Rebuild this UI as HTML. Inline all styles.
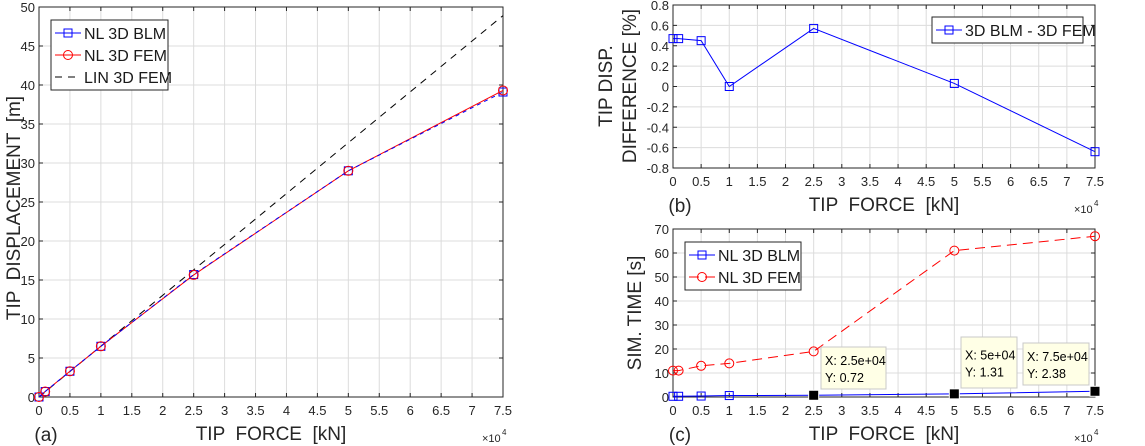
<!DOCTYPE html>
<html><head><meta charset="utf-8"><style>
html,body{margin:0;padding:0;background:#fff;}
svg{display:block;font-family:"Liberation Sans",sans-serif;}
text{white-space:pre;}
</style></head><body>
<svg id="fig" width="1145" height="446" viewBox="0 0 1145 446" xmlns="http://www.w3.org/2000/svg"></svg>
<script>
// ---- data ----
const forceA = [0, 0.1, 0.5, 1, 2.5, 5, 7.5];
const dispBLM = [0, 0.7, 3.3, 6.5, 15.7, 29.0, 39.1];
const dispFEM = [0, 0.7, 3.3, 6.5, 15.65, 29.0, 39.3];
const linX = [0, 7.5];
const linY = [0, 48.9];
const diffVals = [0.47, 0.47, 0.45, 0.0, 0.57, 0.03, -0.64];
const timeFEM = [11, 11, 13, 14, 19, 61, 67];
const timeBLM = [0.3, 0.3, 0.4, 0.6, 0.72, 1.31, 2.38];
const tipX = [2.5, 5, 7.5];
const tipY = [0.72, 1.31, 2.38];
const tipLabelX = ["2.5e+04", "5e+04", "7.5e+04"];
const xTicks = [0,0.5,1,1.5,2,2.5,3,3.5,4,4.5,5,5.5,6,6.5,7,7.5];
const yTicksA = [0,5,10,15,20,25,30,35,40,45,50];
const yTicksB = [-0.8,-0.6,-0.4,-0.2,0,0.2,0.4,0.6,0.8];
const yTicksC = [0,10,20,30,40,50,60,70];

const NS="http://www.w3.org/2000/svg";
const svg=document.getElementById('fig');
function el(tag,attrs,parent,txt){const e=document.createElementNS(NS,tag);for(const k in attrs)e.setAttribute(k,attrs[k]);if(txt!==undefined)e.textContent=txt;(parent||svg).appendChild(e);return e;}

function axes(name,L,R,T,B,ymin,ymax,yt,letter){
  const g=el('g',{});
  
  
  const sx=v=>L+(v-0)/(7.5)*(R-L);
  const sy=v=>B-(v-ymin)/(ymax-ymin)*(B-T);
  el('rect',{x:L,y:T,width:R-L,height:B-T,fill:'#fff'},g);
  xTicks.forEach(t=>{const l=el('line',{x1:sx(t),x2:sx(t),y1:T,y2:B,stroke:'#dcdcdc','stroke-width':1},g);
    });
  yt.forEach(t=>{const l=el('line',{x1:L,x2:R,y1:sy(t),y2:sy(t),stroke:'#dcdcdc','stroke-width':1},g);
    });
  el('rect',{x:L,y:T,width:R-L,height:B-T,fill:'none',stroke:'#262626','stroke-width':1},g);
  xTicks.forEach(t=>{
    el('line',{x1:sx(t),x2:sx(t),y1:B,y2:B-4,stroke:'#262626'},g);
    el('line',{x1:sx(t),x2:sx(t),y1:T,y2:T+4,stroke:'#262626'},g);
    const tx=el('text',{x:sx(t),y:B+18,'text-anchor':'middle','font-size':13,fill:'#262626'},g,String(t));
    });
  yt.forEach(t=>{
    el('line',{x1:L,x2:L+4,y1:sy(t),y2:sy(t),stroke:'#262626'},g);
    el('line',{x1:R,x2:R-4,y1:sy(t),y2:sy(t),stroke:'#262626'},g);
    const tx=el('text',{x:L-4,y:sy(t)+5,'text-anchor':'end','font-size':13,fill:'#262626'},g,String(t));
    });
  const xl=el('text',{x:(L+R)/2,y:B+43,'text-anchor':'middle','font-size':19,fill:'#262626'},g,'TIP  FORCE  [kN]');
  
  const ex=el('text',{x:R-21,y:B+45,'font-size':11,fill:'#262626'},g,'×10');
  
  el('text',{x:R-1,y:B+38,'font-size':8,fill:'#262626'},g,'4');
  const lt=el('text',{x:L+7,y:B+44,'text-anchor':'middle','font-size':19,fill:'#262626'},g,letter);
  
  return {g,sx,sy};
}
function line(g,xs,ys,ax,color,dash,name){
  const p=el('polyline',{points:xs.map((x,i)=>ax.sx(x)+','+ax.sy(ys[i])).join(' '),fill:'none',stroke:color,'stroke-width':1,'stroke-dasharray':dash||'none'},g);
  
}
function markers(g,xs,ys,ax,color,type,name){
  xs.forEach((x,i)=>{const cx=ax.sx(x),cy=ax.sy(ys[i]);let m;
    if(type==='sq')m=el('rect',{x:cx-4,y:cy-4,width:8,height:8,fill:'none',stroke:color},g);
    else if(type==='blk')m=el('rect',{x:cx-5,y:cy-5,width:10,height:10,fill:'#000',stroke:'#fff'},g);
    else m=el('circle',{cx:cx,cy:cy,r:4.5,fill:'none',stroke:color},g);
    });
}
function legend(g,x,y,w,entries,name){
  const lg=el('g',{},g);
  
  el('rect',{x:x,y:y,width:w,height:entries.length*22+4,fill:'#fff',stroke:'#262626'},lg);
  entries.forEach((e,i)=>{const cy=y+13+i*22;
    el('line',{x1:x+4,x2:x+30,y1:cy,y2:cy,stroke:e.c,'stroke-dasharray':e.d||'none'},lg);
    if(e.m==='sq')el('rect',{x:x+13,y:cy-4,width:8,height:8,fill:'none',stroke:e.c},lg);
    if(e.m==='ci')el('circle',{cx:x+17,cy:cy,r:4.5,fill:'none',stroke:e.c},lg);
    const t=el('text',{x:x+33,y:cy+6,'font-size':16,fill:'#1a1a1a'},lg,e.t);
    });
}

// Panel (a)
const A=axes('chart-a-displacement',39,503,7,397,0,50,yTicksA,'(a)');
line(A.g,linX,linY,A,'#000','7,6','lin-3d-fem-line');
line(A.g,forceA,dispFEM,A,'#ff0000',null,'nl-3d-fem-line');
line(A.g,forceA,dispBLM,A,'#0000ff','4,4','nl-3d-blm-line');
markers(A.g,forceA,dispBLM,A,'#0000ff','sq','blm-marker');
markers(A.g,forceA,dispFEM,A,'#ff0000','ci','fem-marker');
legend(A.g,51,20,117,[{t:'NL 3D BLM',c:'#0000ff',m:'sq'},{t:'NL 3D FEM',c:'#ff0000',m:'ci'},{t:'LIN 3D FEM',c:'#000',d:'7,6'}],'legend-a');
const ya=el('text',{transform:'translate(20,208) rotate(-90)','text-anchor':'middle','font-size':19,fill:'#262626'},A.g,'TIP  DISPLACEMENT  [m]');


// Panel (b)
const Bx=axes('chart-b-difference',673,1095,5,168,-0.8,0.8,yTicksB,'(b)');
line(Bx.g,forceA,diffVals,Bx,'#0000ff',null,'difference-line');
markers(Bx.g,forceA,diffVals,Bx,'#0000ff','sq','difference-marker');
legend(Bx.g,932,17,151,[{t:'3D BLM - 3D FEM',c:'#0000ff',m:'sq'}],'legend-b');
let t1=el('text',{transform:'translate(612,86) rotate(-90)','text-anchor':'middle','font-size':19,fill:'#262626'},Bx.g,'TIP DISP.');

let t2=el('text',{transform:'translate(636,86) rotate(-90)','text-anchor':'middle','font-size':19,fill:'#262626'},Bx.g,'DIFFERENCE [%]');


// Panel (c)
const C=axes('chart-c-sim-time',673,1095,229,397,0,70,yTicksC,'(c)');
line(C.g,forceA,timeFEM,C,'#ff0000','10,6','fem-time-line');
line(C.g,forceA,timeBLM,C,'#0000ff',null,'blm-time-line');
markers(C.g,forceA,timeFEM,C,'#ff0000','ci','fem-time-marker');
markers(C.g,forceA,timeBLM,C,'#0000ff','sq','blm-time-marker');
markers(C.g,tipX,tipY,C,'#000','blk','datatip-point');
legend(C.g,685,242,116,[{t:'NL 3D BLM',c:'#0000ff',m:'sq'},{t:'NL 3D FEM',c:'#ff0000',m:'ci',d:'10,6'}],'legend-c');
const tc=el('text',{transform:'translate(641,313) rotate(-90)','text-anchor':'middle','font-size':19,fill:'#262626'},C.g,'SIM. TIME [s]');

const tipBoxes=[[821,347,65,42],[961,337,56,51],[1023,343,66,42]];
tipX.forEach((x,i)=>{const b=tipBoxes[i];const tg=el('g',{},C.g);
  
  el('rect',{x:b[0],y:b[1],width:b[2],height:b[3],fill:'#ffffe6',stroke:'#c8c8c8'},tg);
  el('text',{x:b[0]+4,y:b[1]+b[3]/2-3,'font-size':12.5,fill:'#000'},tg,'X: '+tipLabelX[i]);
  el('text',{x:b[0]+4,y:b[1]+b[3]/2+14,'font-size':12.5,fill:'#000'},tg,'Y: '+tipY[i]);
});
</script>
</body></html>
